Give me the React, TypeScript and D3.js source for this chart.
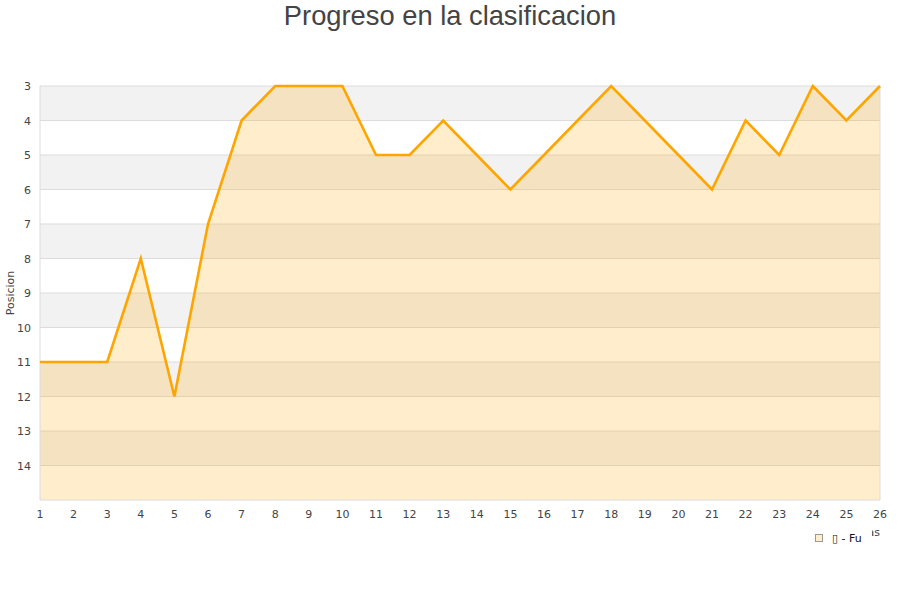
import React from "react";
import * as d3 from "d3";

const jornadas = [1, 2, 3, 4, 5, 6, 7, 8, 9, 10, 11, 12, 13, 14, 15, 16, 17, 18, 19, 20, 21, 22, 23, 24, 25, 26];
const posiciones = [11, 11, 11, 8, 12, 7, 4, 3, 3, 3, 5, 5, 4, 5, 6, 5, 4, 3, 4, 5, 6, 4, 5, 3, 4, 3];
const yTicks = [3, 4, 5, 6, 7, 8, 9, 10, 11, 12, 13, 14];
const serieNombre = "\u25AF - Fu";
const titulo = "Progreso en la clasificacion";

const W = 900;
const H = 600;
const M = { left: 40, right: 880, top: 86, bottom: 500 };

export default function App() {
  const x = d3.scaleLinear().domain([1, 26]).range([M.left, M.right]);
  const y = d3.scaleLinear().domain([3, 15]).range([M.top, M.bottom]);
  const pts = jornadas.map((j, i) => [j, posiciones[i]] as [number, number]);

  const line = d3.line<[number, number]>().x(d => x(d[0])).y(d => y(d[1]));
  const area = d3
    .area<[number, number]>()
    .x(d => x(d[0]))
    .y0(y(15))
    .y1(d => y(d[1]));

  const bands = d3.range(3, 15);
  const font = "'DejaVu Sans', sans-serif";

  return (
    <svg width={W} height={H} style={{ position: "absolute", left: 0, top: 0 }}>
      <rect width={W} height={H} fill="#fff" />
      <text x={450} y={25} textAnchor="middle" fontFamily="'Liberation Sans', Arial, sans-serif" fontSize={27.3} fill="#444">
        {titulo}
      </text>
      {bands.map(b => (
        <rect
          key={b}
          x={M.left}
          y={y(b)}
          width={M.right - M.left}
          height={y(b + 1) - y(b)}
          fill={(b - 3) % 2 === 0 ? "#f2f2f2" : "#ffffff"}
        />
      ))}
      {yTicks.map(t => (
        <line key={t} x1={M.left} x2={M.right} y1={y(t)} y2={y(t)} stroke="#dcdcdc" strokeWidth={1} />
      ))}
      <path d={area(pts) ?? ""} fill="rgba(255,165,0,0.2)" />
      <line x1={M.left} x2={M.left} y1={M.top} y2={M.bottom} stroke="#dcdcdc" />
      <line x1={M.right} x2={M.right} y1={M.top} y2={M.bottom} stroke="#dcdcdc" />
      <line x1={M.left} x2={M.right} y1={M.bottom} y2={M.bottom} stroke="#dcdcdc" />
      <path d={line(pts) ?? ""} fill="none" stroke="#ffa500" strokeWidth={2.6} strokeLinejoin="miter" />
      {yTicks.map(t => (
        <text key={t} x={31} y={y(t) + 4} textAnchor="end" fontFamily={font} fontSize={11} fill="#444">
          {t}
        </text>
      ))}
      {jornadas.map(j => (
        <text key={j} x={x(j)} y={518} textAnchor="middle" fontFamily={font} fontSize={11} fill="#444">
          {j}
        </text>
      ))}
      <text
        transform={`translate(14,${(M.top + M.bottom) / 2}) rotate(-90)`}
        textAnchor="middle"
        fontFamily={font}
        fontSize={11}
        fill="#444"
      >
        Posicion
      </text>
      <text x={880} y={536} textAnchor="end" fontFamily={font} fontSize={11} fill="#444">
        Jornadas
      </text>
      <rect x={800} y={528} width={72} height={22} fill="#fff" />
      <rect x={815.5} y={534.5} width={7} height={7} fill="#ffedcc" stroke="#999" strokeWidth={1} />
      <text x={832} y={542} fontFamily={font} fontSize={11} fill="#111">
        {serieNombre}
      </text>
    </svg>
  );
}
